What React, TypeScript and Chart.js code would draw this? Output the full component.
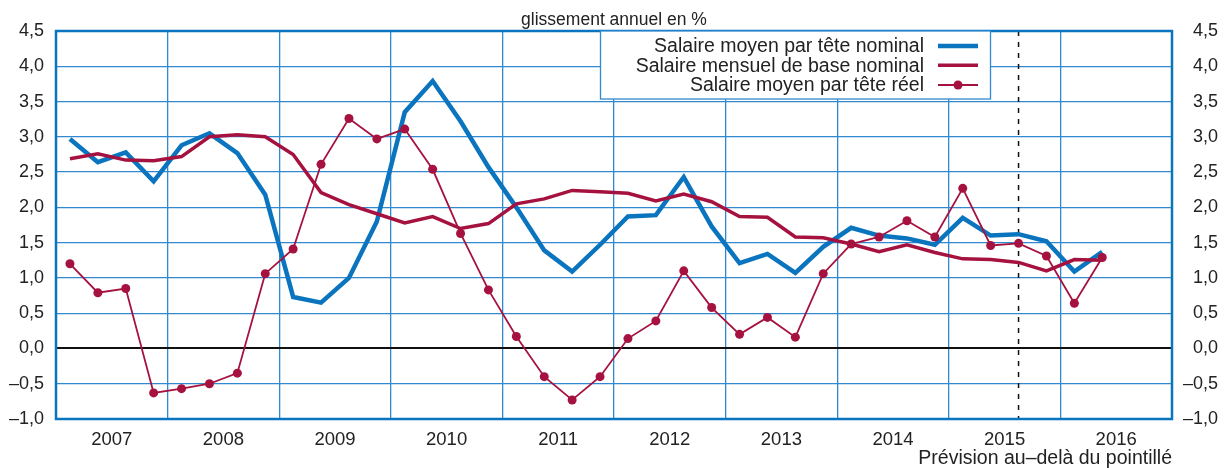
import React, { useEffect, useRef } from 'react';
import { Chart, registerables } from 'chart.js';

Chart.register(...registerables);

// ---- data ----
const years = ['2007', '2008', '2009', '2010', '2011', '2012', '2013', '2014', '2015', '2016'];
const quarterLabels = years.flatMap((y) => ['T1', 'T2', 'T3', 'T4'].map((q) => y + q));

const salaireMoyenNominal = [
  2.97, 2.64, 2.78, 2.37, 2.88, 3.05, 2.77, 2.18,
  0.73, 0.65, 1.0, 1.8, 3.35, 3.79, 3.22, 2.57,
  2.0, 1.39, 1.09, 1.47, 1.87, 1.89, 2.43, 1.73,
  1.21, 1.34, 1.07, 1.44, 1.71, 1.6, 1.56, 1.47,
  1.85, 1.6, 1.62, 1.52, 1.09, 1.37,
];
const salaireMensuelBase = [
  2.69, 2.76, 2.67, 2.66, 2.72, 3.0, 3.03, 3.0,
  2.75, 2.21, 2.04, 1.91, 1.78, 1.87, 1.7, 1.77,
  2.05, 2.12, 2.24, 2.22, 2.2, 2.09, 2.19, 2.08,
  1.87, 1.86, 1.58, 1.57, 1.48, 1.37, 1.47, 1.36,
  1.27, 1.26, 1.22, 1.1, 1.26, 1.25,
];
const salaireMoyenReel = [
  1.2, 0.79, 0.85, -0.63, -0.57, -0.5, -0.35, 1.06,
  1.41, 2.61, 3.26, 2.97, 3.11, 2.54, 1.63, 0.83,
  0.17, -0.4, -0.73, -0.4, 0.14, 0.39, 1.1, 0.58,
  0.2, 0.44, 0.16, 1.06, 1.48, 1.58, 1.81, 1.58,
  2.27, 1.46, 1.49, 1.31, 0.64, 1.29,
];
const seriesNames = [
  'Salaire moyen par tête nominal',
  'Salaire mensuel de base nominal',
  'Salaire moyen par tête réel',
];
const forecastIndex = quarterLabels.indexOf('2015T3');
const titleText = 'glissement annuel en %';
const noteText = 'Prévision au–delà du pointillé';

const BLUE = '#0a74bf';
const RED = '#a6123f';
const GRID = '#3189cf';
const TEXT = '#222222';
const FONT = '"Liberation Sans", Arial, Helvetica, sans-serif';

const fmt = (v: number) => {
  const s = Math.abs(v).toFixed(1).replace('.', ',');
  return v < -1e-9 ? '–' + s : s;
};

const toPts = (arr: number[]) => arr.map((y, i) => ({ x: i, y }));

const decorPlugin = {
  id: 'decor',
  beforeDatasetsDraw(chart: any) {
    const { ctx, chartArea: a } = chart;
    ctx.save();
    // forecast dashed line
    const xs = chart.scales.x.getPixelForValue(forecastIndex);
    ctx.strokeStyle = '#111';
    ctx.lineWidth = 1.5;
    ctx.setLineDash([5, 6]);
    ctx.beginPath();
    ctx.moveTo(xs, a.top);
    ctx.lineTo(xs, a.bottom);
    ctx.stroke();
    ctx.setLineDash([]);
    // frame
    ctx.strokeStyle = BLUE;
    ctx.lineWidth = 2.5;
    ctx.strokeRect(a.left, a.top, a.right - a.left, a.bottom - a.top);
    ctx.restore();
  },
  afterDraw(chart: any) {
    const { ctx, chartArea: a } = chart;
    ctx.save();
    // title
    ctx.fillStyle = TEXT;
    ctx.font = `17.5px ${FONT}`;
    ctx.textAlign = 'center';
    ctx.textBaseline = 'alphabetic';
    ctx.fillText(titleText, (a.left + a.right) / 2, 25);
    // note
    ctx.font = `19.5px ${FONT}`;
    ctx.textAlign = 'right';
    ctx.fillText(noteText, a.right, 464);
    // legend
    const bx = 600, by = a.top, bw = 390, bh = 68;
    ctx.fillStyle = '#ffffff';
    ctx.fillRect(bx, by, bw, bh);
    ctx.strokeStyle = GRID;
    ctx.lineWidth = 1.3;
    ctx.strokeRect(bx + 0.5, by, bw, bh);
    const rows = [46, 65.3, 85];
    chart.data.datasets.forEach((ds: any, i: number) => {
      const y = rows[i];
      ctx.fillStyle = TEXT;
      ctx.font = `19.5px ${FONT}`;
      ctx.textAlign = 'right';
      ctx.textBaseline = 'middle';
      ctx.fillText(ds.label, 924, y + 1);
      ctx.strokeStyle = ds.borderColor;
      ctx.lineWidth = ds.borderWidth;
      ctx.beginPath();
      ctx.moveTo(938, y);
      ctx.lineTo(978, y);
      ctx.stroke();
      if (ds.pointRadius > 0) {
        ctx.fillStyle = ds.pointBackgroundColor;
        ctx.beginPath();
        ctx.arc(958, y, ds.pointRadius, 0, Math.PI * 2);
        ctx.fill();
      }
    });
    ctx.restore();
  },
};

export default function App() {
  const ref = useRef<HTMLCanvasElement | null>(null);
  useEffect(() => {
    if (!ref.current) return;
    const chart = new Chart(ref.current, {
      type: 'line',
      data: {
        datasets: [
          {
            label: seriesNames[0],
            data: toPts(salaireMoyenNominal),
            borderColor: BLUE,
            backgroundColor: BLUE,
            borderWidth: 4.5,
            pointRadius: 0,
            tension: 0,
            order: 2,
          },
          {
            label: seriesNames[1],
            data: toPts(salaireMensuelBase),
            borderColor: RED,
            backgroundColor: RED,
            borderWidth: 3.5,
            pointRadius: 0,
            tension: 0,
            order: 1,
          },
          {
            label: seriesNames[2],
            data: toPts(salaireMoyenReel),
            borderColor: RED,
            backgroundColor: RED,
            pointBackgroundColor: RED,
            pointBorderColor: RED,
            borderWidth: 1.8,
            pointRadius: 4.5,
            pointBorderWidth: 0,
            tension: 0,
            order: 0,
          },
        ] as any,
      },
      options: {
        animation: false,
        responsive: true,
        maintainAspectRatio: false,
        layout: { padding: { top: 31, left: 0, right: 9, bottom: 0 } },
        plugins: { legend: { display: false }, title: { display: false }, tooltip: { enabled: false } },
        scales: {
          x: {
            type: 'linear',
            min: -0.5,
            max: quarterLabels.length - 0.5,
            afterBuildTicks: (axis: any) => {
              const t = [];
              for (let k = 0; k <= years.length * 2; k++) t.push({ value: -0.5 + 2 * k });
              axis.ticks = t;
            },
            afterFit: (axis: any) => {
              axis.height = 49;
            },
            border: { display: false },
            grid: {
              color: (c: any) => (c.index % 2 === 0 ? GRID : 'rgba(0,0,0,0)'),
              lineWidth: 1.3,
              drawTicks: false,
            },
            ticks: {
              autoSkip: false,
              maxRotation: 0,
              padding: 10,
              color: TEXT,
              font: { family: FONT, size: 18.5 },
              callback: (_v: any, i: number) => (i % 2 === 1 ? years[(i - 1) / 2] : ''),
            },
          },
          y: {
            type: 'linear',
            position: 'left',
            min: -1,
            max: 4.5,
            afterFit: (axis: any) => {
              axis.width = 56;
            },
            border: { display: false },
            grid: {
              color: (c: any) => (c.tick && Math.abs(c.tick.value) < 1e-9 ? '#111' : GRID),
              lineWidth: (c: any) => (c.tick && Math.abs(c.tick.value) < 1e-9 ? 2 : 1.3),
              drawTicks: false,
            },
            ticks: {
              stepSize: 0.5,
              padding: 12,
              color: TEXT,
              font: { family: FONT, size: 18 },
              callback: (v: any) => fmt(Number(v)),
            },
          },
          y2: {
            type: 'linear',
            position: 'right',
            min: -1,
            max: 4.5,
            afterFit: (axis: any) => {
              axis.width = 46;
            },
            border: { display: false },
            grid: { display: false, drawTicks: false, tickLength: 0 },
            ticks: {
              stepSize: 0.5,
              padding: 2,
              crossAlign: 'far',
              color: TEXT,
              font: { family: FONT, size: 18 },
              callback: (v: any) => fmt(Number(v)),
            },
          },
        },
      } as any,
      plugins: [decorPlugin],
    });
    return () => chart.destroy();
  }, []);
  return (
    <div style={{ position: 'fixed', left: 0, top: 0, width: 1227, height: 468, background: '#fff' }}>
      <canvas ref={ref} />
    </div>
  );
}
